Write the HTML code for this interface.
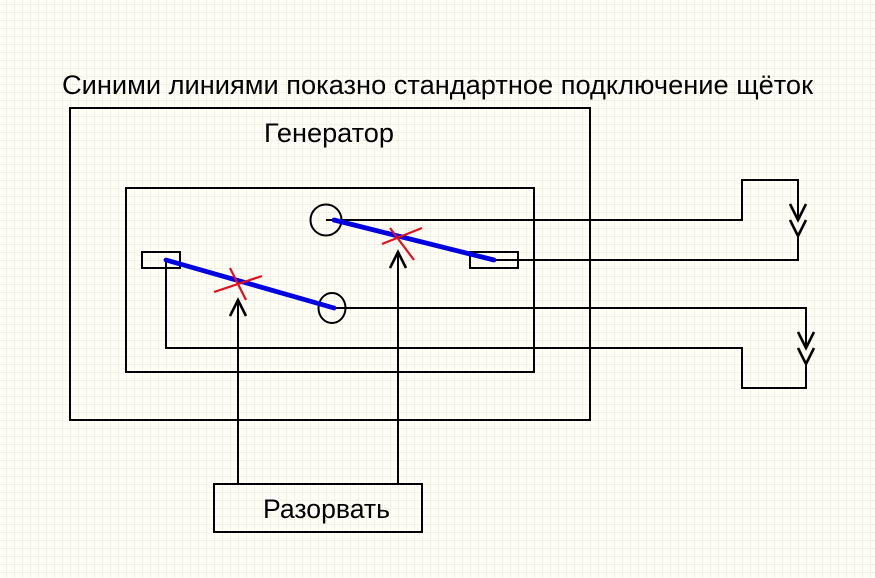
<!DOCTYPE html>
<html><head><meta charset="utf-8"><style>
html,body{margin:0;padding:0;width:875px;height:578px;overflow:hidden;background:#fefef7}
svg{display:block}
text{font-family:"Liberation Sans",sans-serif;font-size:27px;fill:#000}
</style></head><body>
<svg width="875" height="578" viewBox="0 0 875 578" xmlns="http://www.w3.org/2000/svg">
<defs><pattern id="g" x="6" y="4" width="8" height="8" patternUnits="userSpaceOnUse"><path d="M0.5 0V8M0 0.5H8" stroke="#f1f1e6" stroke-width="1" fill="none"/></pattern></defs>
<rect width="875" height="578" fill="url(#g)"/>
<g fill="none" stroke="#000" stroke-width="2">
<rect x="70" y="108" width="520" height="312"/>
<rect x="126" y="188" width="408" height="184"/>
<rect x="142" y="252" width="38" height="16"/>
<rect x="470" y="252" width="48" height="16"/>
<circle cx="326" cy="220" r="15.5"/>
<ellipse cx="332" cy="308" rx="13.5" ry="15"/>
<path d="M326 220H742V180H798V220M798 236V260H494"/>
<path d="M332 308H806V348M806 364V388H742V348H166V260"/>
<path d="M238 484V300M398 484V252"/>
<rect x="214" y="484" width="208" height="48"/>
</g>
<g fill="none" stroke="#000" stroke-width="2.6">
<path d="M790 204L798 220L806 204M790 220L798 236L806 220"/>
<path d="M798 332L806 348L814 332M798 348L806 364L814 348"/>
<path d="M230 316L238 300L246 316"/>
<path d="M390 268L398 252L406 268"/>
</g>
<g stroke="#0000e0" stroke-width="4.8" fill="none" stroke-linecap="round">
<path d="M166 260L334 308"/>
<path d="M334 220L494 260"/>
</g>
<g stroke="#e01020" stroke-width="2.2" fill="none">
<path d="M230 268L246 300M214 292L262 276"/>
<path d="M390 228L414 260M382 244L422 228"/>
</g>
<text x="62" y="94" textLength="751" lengthAdjust="spacingAndGlyphs">Синими линиями показно стандартное подключение щёток</text>
<text x="264" y="142" textLength="130" lengthAdjust="spacingAndGlyphs">Генератор</text>
<text x="263" y="518" textLength="127" lengthAdjust="spacingAndGlyphs">Разорвать</text>
</svg>
</body></html>
